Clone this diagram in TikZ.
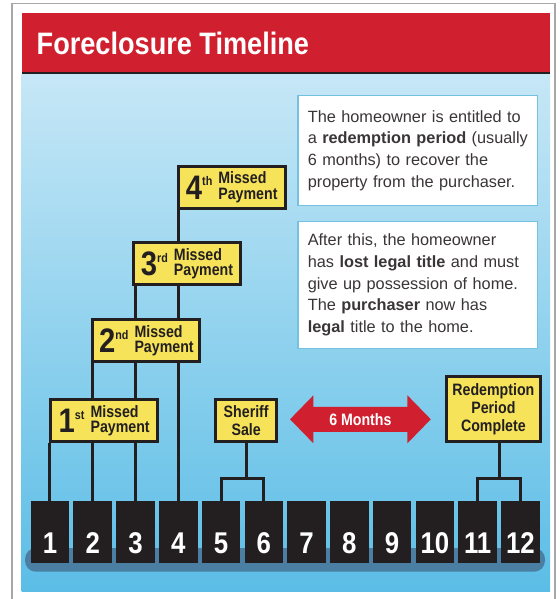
\documentclass[tikz,border=0pt]{standalone}
\usepackage{fontspec}
\setmainfont{Liberation Sans}
\newfontfamily\narrowfont{Liberation Sans Bold}[FakeStretch=0.86]
\newfontfamily\bannerfont{Liberation Sans Bold}[FakeStretch=0.875]
\usetikzlibrary{positioning}
\definecolor{bannerred}{HTML}{D0202F}
\definecolor{inkblack}{HTML}{231F20}
\definecolor{signyellow}{HTML}{F6E35A}
\definecolor{skytop}{HTML}{C6E7F6}
\definecolor{skybottom}{HTML}{5BBDE6}
\definecolor{noteedge}{HTML}{74C1E2}
\definecolor{notetext}{HTML}{3A3536}
\definecolor{shadowblue}{HTML}{4A7FA3}
\definecolor{framegray}{HTML}{A8A8A8}
\tikzstyle{milestone} = [
  rectangle,
  minimum width=107pt,
  minimum height=42pt,
  inner sep=0pt,
  draw=inkblack,
  line width=3pt,
  fill=signyellow,
  text=inkblack,
  font=\narrowfont\fontsize{16.5}{15.5}\selectfont
]
\tikzstyle{event} = [
  milestone,
  align=center,
  font=\narrowfont\fontsize{16.5}{17.8}\selectfont
]
\tikzstyle{month} = [
  rectangle,
  minimum width=38.5pt,
  minimum height=62pt,
  inner sep=0pt,
  fill=inkblack,
  text=white,
  text height=43.2pt,
  text depth=0pt,
  font=\narrowfont\fontsize{30}{30}\selectfont
]
\tikzstyle{note} = [
  rectangle,
  text width=220pt,
  inner xsep=9.75pt,
  inner ysep=0pt,
  align=left,
  draw=noteedge,
  line width=1.5pt,
  fill=white,
  text=notetext,
  font=\fontsize{16.3}{21.7}\selectfont
]
\tikzstyle{link} = [line width=3pt, draw=inkblack]
\newcommand{\missedlabel}[2]{%
  {\fontsize{34}{34}\selectfont #1}%
  \raisebox{13.7pt}{\fontsize{12.5}{12.5}\selectfont #2}%
  \hspace{6pt}%
  \vbox{\hbox{Missed}\hbox{Payment}}%
}
\pgfdeclarelayer{background}
\pgfdeclarelayer{connectors}
\pgfsetlayers{background,connectors,main}

\begin{document}
\begin{tikzpicture}[x=1pt, y=-1pt]
    \useasboundingbox (0,0) rectangle (559,599);

    \node (title) [anchor=base west, inner sep=0pt, text=white, font=\bannerfont\fontsize{31}{31}\selectfont] at (36.5,55) {Foreclosure Timeline};

    \node (redemption-note) [note, minimum height=109.5pt, anchor=north west] at (297.3,95) {The homeowner is entitled to\\
      \mbox{a \textbf{redemption period} (usually}\\
      6 months) to recover the\\
      property from the purchaser.};
    \node (title-note) [note, minimum height=127.1pt, below=14.7pt of redemption-note] {After this, the homeowner\\
      \mbox{has \textbf{lost legal title} and must}\\
      \mbox{give up possession of home.}\\
      The \textbf{purchaser} now has\\
      \textbf{legal} title to the home.};

    \node (missed-4) [milestone] at (231.7,187) {\missedlabel{4}{th}};
    \node (missed-3) [milestone] at (187,263.7) {\missedlabel{3}{rd}};
    \node (missed-2) [milestone] at (146.4,340.7) {\missedlabel{2}{nd}};
    \node (missed-1) [milestone] at (104.2,420.8) {\missedlabel{1}{st}};
    \node (sheriff-sale) [event, minimum width=61.3pt] at (246.2,420.5) {Sheriff\\Sale};
    \node (redemption-complete) [event, minimum width=93.7pt, minimum height=65.3pt] at (493.4,409.2) {Redemption\\Period\\Complete};
    \node (six-months) [text=white, font=\narrowfont\fontsize{16.5}{16.5}\selectfont] at (360.4,419.3) {6 Months};

    \foreach \m in {1,...,12}
      \node (month-\m) [month] at ({49.95+(\m-1)*42.77},531.7) {\m};

    \coordinate (sale-fork) at (sheriff-sale.south |- 0,478.3);
    \coordinate (redeem-fork) at (499,478.3);

    \begin{pgfonlayer}{connectors}
      \foreach \m in {1,...,4}
        \draw [link] (month-\m.north) -- (month-\m.north |- missed-\m.south);
      \draw [link] (sheriff-sale.south) -- (sale-fork);
      \draw [link] (month-5.north) |- (sale-fork) -| (month-6.north);
      \draw [link] (redemption-complete.south -| redeem-fork) -- (redeem-fork);
      \draw [link] (month-11.north) |- (redeem-fork) -| (month-12.north);
      \fill [bannerred, shift={(six-months.center)}] (-70.35,0) -- (-47,-24) -- (-47,-12.5) -- (47,-12.5) -- (47,-24) -- (70.35,0) -- (47,24) -- (47,12.5) -- (-47,12.5) -- (-47,24) -- cycle;
    \end{pgfonlayer}

    \begin{pgfonlayer}{background}
      \draw [framegray, line width=1.5pt] (12,599) -- (12,3.5) -- (555,3.5) -- (555,599);
      \fill [bannerred] (21.7,12.7) rectangle (550,72);
      \fill [inkblack] (21.7,72) rectangle (550,75);
      \shade [top color=skytop, bottom color=skybottom] (21.7,75) rectangle (550,591.7);
      \fill [shadowblue, rounded corners=11pt] (25,548) rectangle (545,571.7);
    \end{pgfonlayer}
\end{tikzpicture}
\end{document}
